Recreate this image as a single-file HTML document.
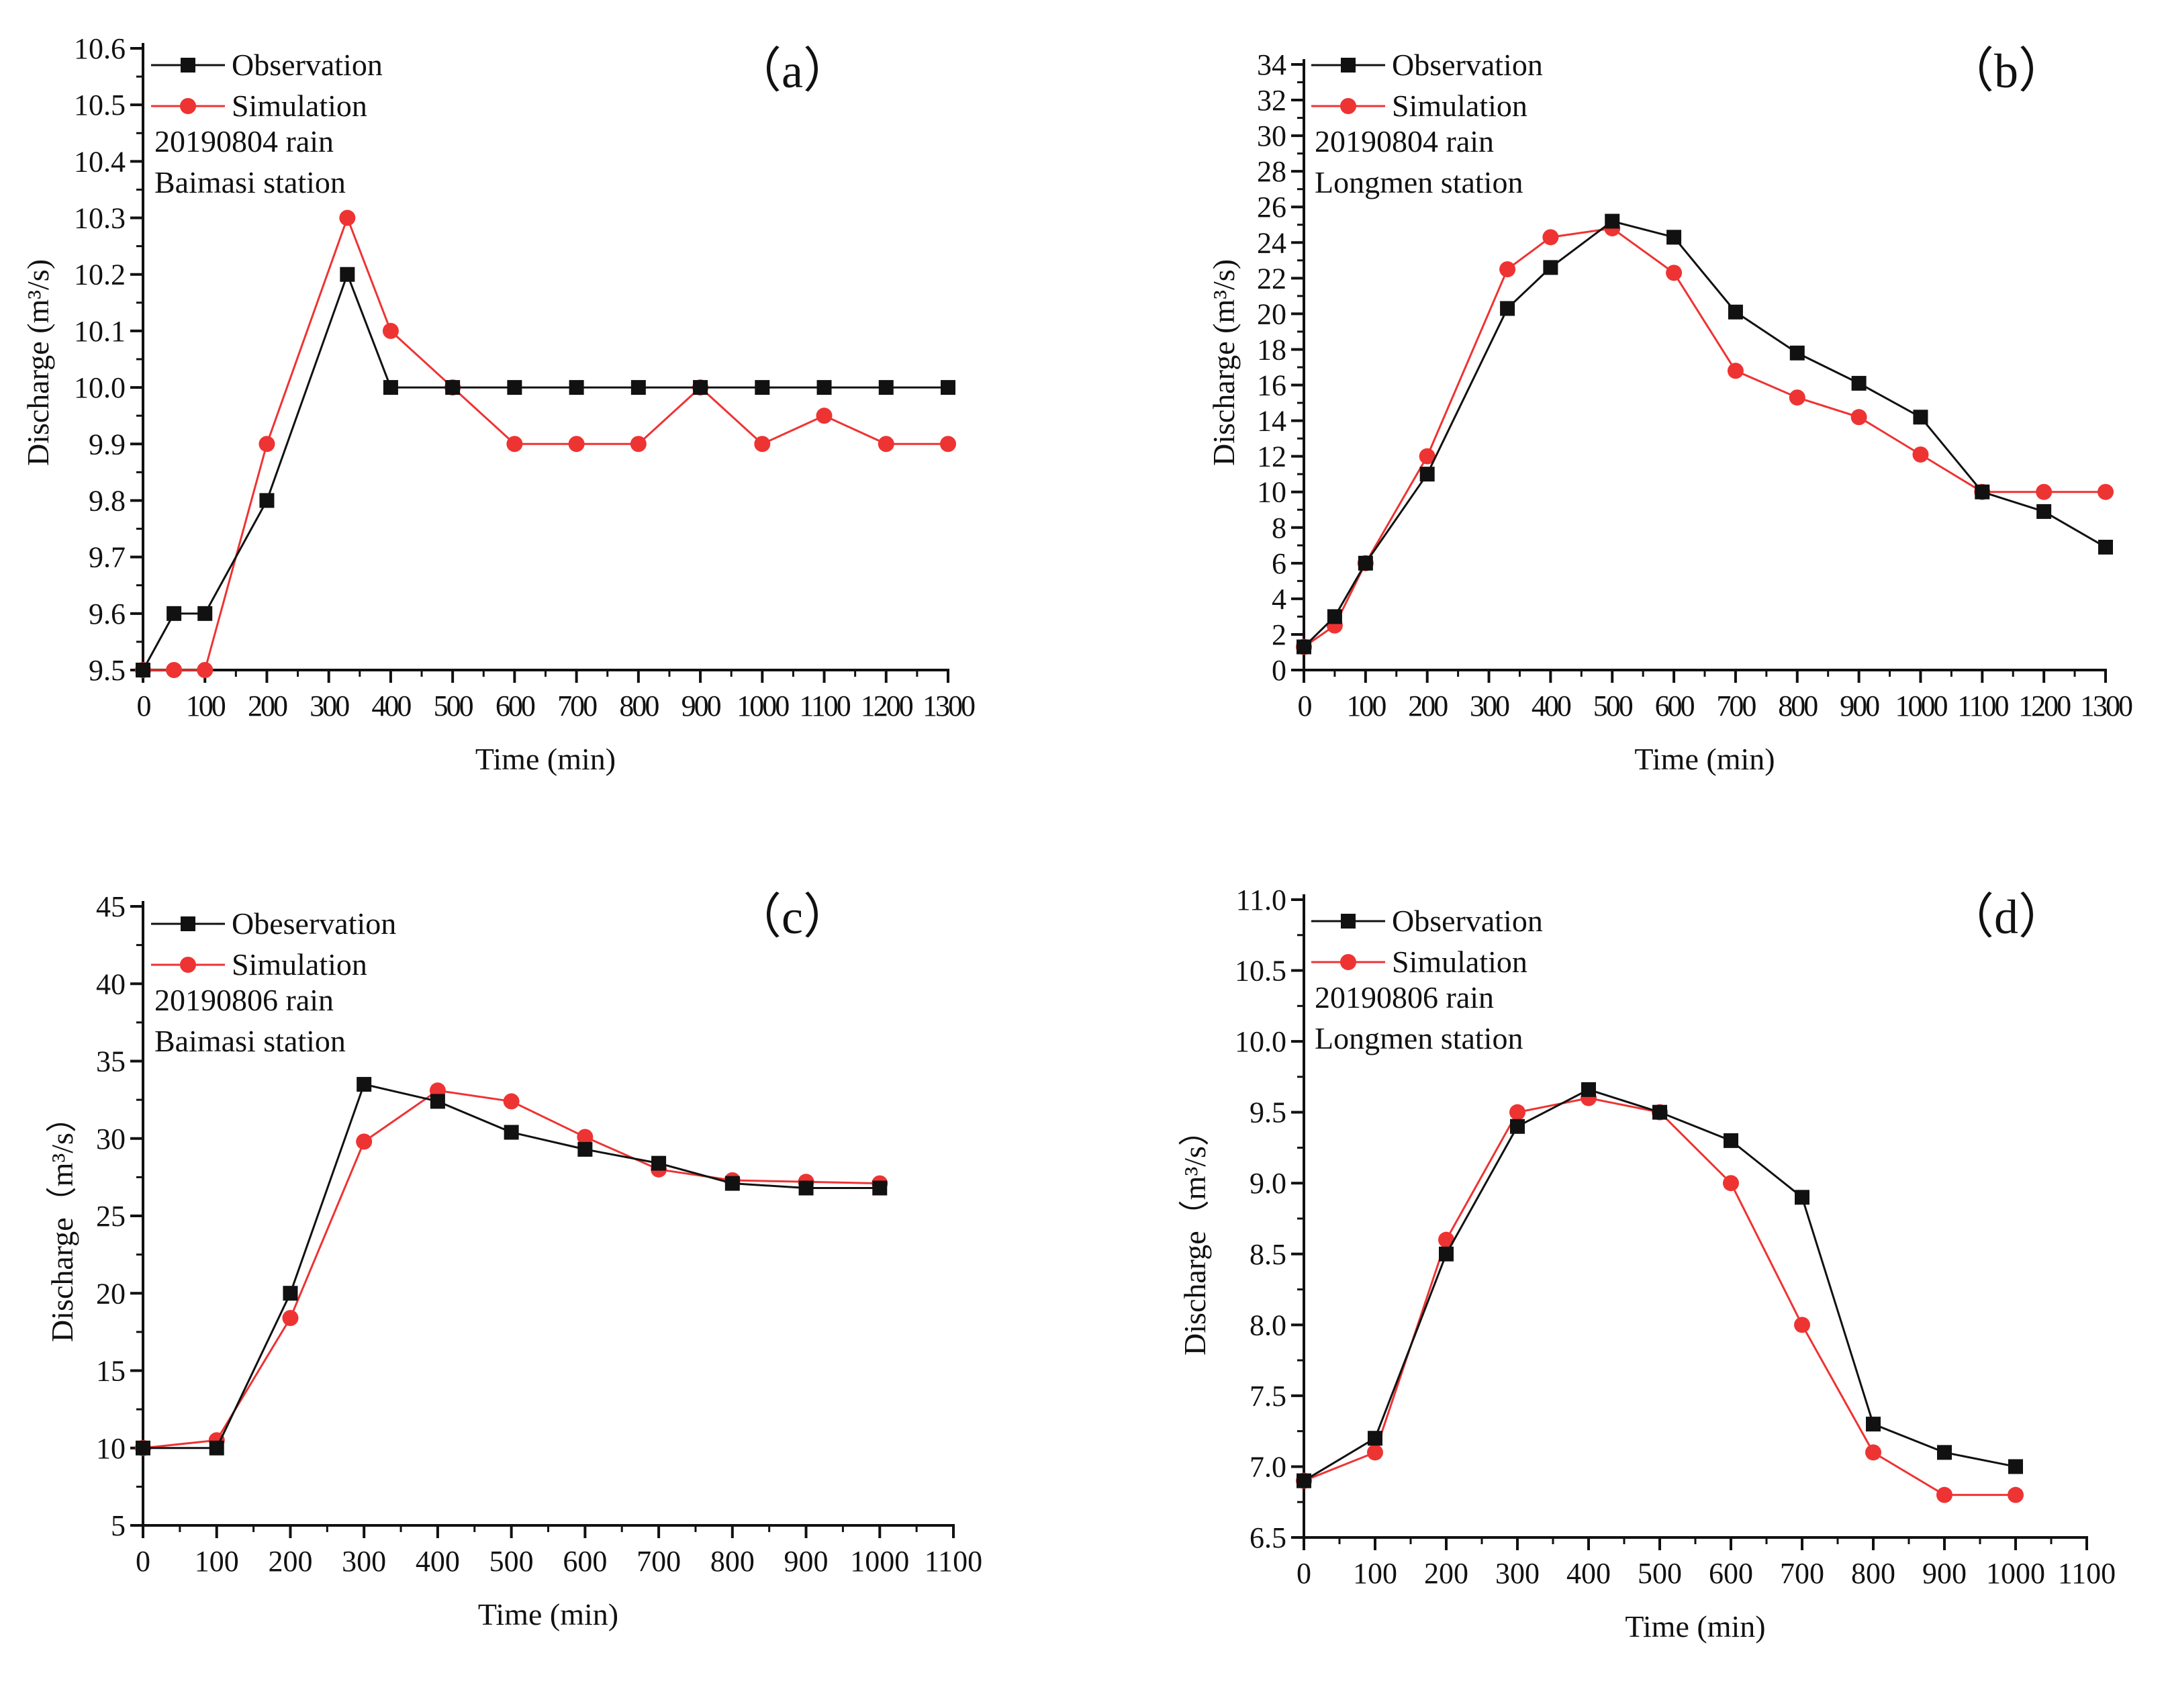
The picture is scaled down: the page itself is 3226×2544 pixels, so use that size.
<!DOCTYPE html>
<html><head><meta charset="utf-8"><style>
html,body{margin:0;padding:0;background:#fff}
svg text{font-family:"Liberation Serif",serif;fill:#111}
</style></head><body>
<svg id="fig" xmlns="http://www.w3.org/2000/svg" width="3226" height="2539" viewBox="0 0 3226 2539"></svg>
<script>
// Panel (a)
const aTime=[0,50,100,200,330,400,500,600,700,800,900,1000,1100,1200,1300];
const aObs=[9.5,9.6,9.6,9.8,10.2,10.0,10.0,10.0,10.0,10.0,10.0,10.0,10.0,10.0,10.0];
const aSim=[9.5,9.5,9.5,9.9,10.3,10.1,10.0,9.9,9.9,9.9,10.0,9.9,9.95,9.9,9.9];
const aYTicks=["9.5","9.6","9.7","9.8","9.9","10.0","10.1","10.2","10.3","10.4","10.5","10.6"];
const aXTicks=["0","100","200","300","400","500","600","700","800","900","1000","1100","1200","1300"];
// Panel (b)
const bTime=[0,50,100,200,330,400,500,600,700,800,900,1000,1100,1200,1300];
const bObs=[1.3,3,6,11,20.3,22.6,25.2,24.3,20.1,17.8,16.1,14.2,10,8.9,6.9];
const bSim=[1.3,2.5,6,12,22.5,24.3,24.8,22.3,16.8,15.3,14.2,12.1,10,10,10];
const bYTicks=["0","2","4","6","8","10","12","14","16","18","20","22","24","26","28","30","32","34"];
const bXTicks=["0","100","200","300","400","500","600","700","800","900","1000","1100","1200","1300"];
// Panel (c)
const cTime=[0,100,200,300,400,500,600,700,800,900,1000];
const cObs=[10,10,20,33.5,32.4,30.4,29.3,28.4,27.1,26.8,26.8];
const cSim=[10,10.5,18.4,29.8,33.1,32.4,30.1,28,27.3,27.2,27.1];
const cYTicks=["5","10","15","20","25","30","35","40","45"];
const cXTicks=["0","100","200","300","400","500","600","700","800","900","1000","1100"];
// Panel (d)
const dTime=[0,100,200,300,400,500,600,700,800,900,1000];
const dObs=[6.9,7.2,8.5,9.4,9.66,9.5,9.3,8.9,7.3,7.1,7.0];
const dSim=[6.9,7.1,8.6,9.5,9.6,9.5,9.0,8.0,7.1,6.8,6.8];
const dYTicks=["6.5","7.0","7.5","8.0","8.5","9.0","9.5","10.0","10.5","11.0"];
const dXTicks=["0","100","200","300","400","500","600","700","800","900","1000","1100"];

const NS="http://www.w3.org/2000/svg";
const svg=document.getElementById('fig');
function mk(tag,attrs,parent){const e=document.createElementNS(NS,tag);for(const k in attrs)e.setAttribute(k,attrs[k]);(parent||svg).appendChild(e);return e;}

function panel(id,cfg){
  const g=mk('g',{});
  
  
  const yv=cfg.yt.map(Number), xv=cfg.xt.map(Number);
  const ymin=yv[0], ymax=yv[yv.length-1], xmin=xv[0], xmax=xv[xv.length-1];
  const X=v=>cfg.x0+(v-xmin)/(xmax-xmin)*(cfg.x1-cfg.x0);
  const Y=v=>cfg.y0-(v-ymin)/(ymax-ymin)*(cfg.y0-cfg.y1);
  const ax=mk('path',{d:`M${cfg.x0} ${cfg.y1-8} L${cfg.x0} ${cfg.y0} L${cfg.x1+2} ${cfg.y0}`,stroke:'#111','stroke-width':4,fill:'none'},g);
  
  
  for(let i=0;i<yv.length;i++){
    const y=Y(yv[i]);
    mk('line',{x1:cfg.x0-19,y1:y,x2:cfg.x0,y2:y,stroke:'#111','stroke-width':4},g);
    const t=mk('text',{x:cfg.x0-26,y:y+15,'text-anchor':'end','font-size':44},g);
    t.textContent=cfg.yt[i];
    
    
    if(i<yv.length-1){const ym=Y((yv[i]+yv[i+1])/2);mk('line',{x1:cfg.x0-10,y1:ym,x2:cfg.x0,y2:ym,stroke:'#111','stroke-width':3},g);}
  }
  for(let i=0;i<xv.length;i++){
    const x=X(xv[i]);
    mk('line',{x1:x,y1:cfg.y0,x2:x,y2:cfg.y0+19,stroke:'#111','stroke-width':4},g);
    const t=mk('text',{x:x,y:cfg.y0+68,'text-anchor':'middle','font-size':44,'letter-spacing':cfg.ls||0},g);
    t.textContent=cfg.xt[i];
    
    
    if(i<xv.length-1){const xm=X((xv[i]+xv[i+1])/2);mk('line',{x1:xm,y1:cfg.y0,x2:xm,y2:cfg.y0+10,stroke:'#111','stroke-width':3},g);}
  }
  const series=[[cfg.sim,'#ee3333','circle','simulation'],[cfg.obs,'#111','square','observation']];
  for(const [vals,col,shape,nm] of series){
    const pts=cfg.t.map((tv,i)=>X(tv)+','+Y(vals[i])).join(' ');
    const pl=mk('polyline',{points:pts,stroke:col,'stroke-width':3,fill:'none'},g);
    
    
    cfg.t.forEach((tv,i)=>{
      let m;
      if(shape==='circle') m=mk('circle',{cx:X(tv),cy:Y(vals[i]),r:12,fill:col},g);
      else m=mk('rect',{x:X(tv)-11,y:Y(vals[i])-11,width:22,height:22,fill:col},g);
      
      
    });
  }
  const L=cfg.leg;
  const l1=mk('g',{},g);
  
  
  mk('line',{x1:L.x,y1:L.y,x2:L.x+110,y2:L.y,stroke:'#111','stroke-width':3},l1);
  mk('rect',{x:L.x+44,y:L.y-11,width:22,height:22,fill:'#111'},l1);
  const t1=mk('text',{x:L.x+120,y:L.y+15,'font-size':46},l1);t1.textContent=cfg.obsLabel;
  const l2=mk('g',{},g);
  
  
  mk('line',{x1:L.x,y1:L.y+61,x2:L.x+110,y2:L.y+61,stroke:'#ee3333','stroke-width':3},l2);
  mk('circle',{cx:L.x+55,cy:L.y+61,r:12,fill:'#ee3333'},l2);
  const t2=mk('text',{x:L.x+120,y:L.y+76,'font-size':46},l2);t2.textContent='Simulation';
  const n1=mk('text',{x:L.x+5,y:L.y+129,'font-size':46},g);n1.textContent=cfg.rain;
  
  
  const n2=mk('text',{x:L.x+5,y:L.y+190,'font-size':46},g);n2.textContent=cfg.station;
  
  
  const pl=mk('text',{x:cfg.lab[0],y:cfg.lab[1],'text-anchor':'middle','font-size':72,'font-family':'"Liberation Serif","Noto Serif CJK SC",serif'},g);
  pl.textContent='（'+id+'）';
  
  
  const xt=mk('text',{x:(cfg.x0+cfg.x1)/2,y:cfg.y0+148,'text-anchor':'middle','font-size':46},g);
  xt.textContent='Time (min)';
  
  
  const yt=mk('text',{x:0,y:0,'text-anchor':'middle','font-size':46,transform:`translate(${cfg.yTitle[0]},${cfg.yTitle[1]}) rotate(-90)`,'font-family':'"Liberation Serif","Noto Serif CJK SC",serif'},g);
  yt.textContent=cfg.yLabel;
  
  
}

panel('a',{x0:213,x1:1412,y0:998,y1:72,t:aTime,obs:aObs,sim:aSim,yt:aYTicks,xt:aXTicks,ls:-3,
  leg:{x:225,y:97},obsLabel:'Observation',rain:'20190804 rain',station:'Baimasi station',lab:[1180,130],yTitle:[72,540],yLabel:'Discharge (m³/s)'});
panel('b',{x0:1942,x1:3136,y0:998,y1:96,t:bTime,obs:bObs,sim:bSim,yt:bYTicks,xt:bXTicks,ls:-3,
  leg:{x:1953,y:97},obsLabel:'Observation',rain:'20190804 rain',station:'Longmen station',lab:[2988,130],yTitle:[1838,540],yLabel:'Discharge (m³/s)'});
panel('c',{x0:213,x1:1420,y0:2272,y1:1350,t:cTime,obs:cObs,sim:cSim,yt:cYTicks,xt:cXTicks,
  leg:{x:225,y:1376},obsLabel:'Obeservation',rain:'20190806 rain',station:'Baimasi station',lab:[1180,1390],yTitle:[108,1820],yLabel:'Discharge（m³/s）'});
panel('d',{x0:1942,x1:3108,y0:2290,y1:1340,t:dTime,obs:dObs,sim:dSim,yt:dYTicks,xt:dXTicks,
  leg:{x:1953,y:1372},obsLabel:'Observation',rain:'20190806 rain',station:'Longmen station',lab:[2988,1390],yTitle:[1795,1840],yLabel:'Discharge（m³/s）'});
</script>
</body></html>
